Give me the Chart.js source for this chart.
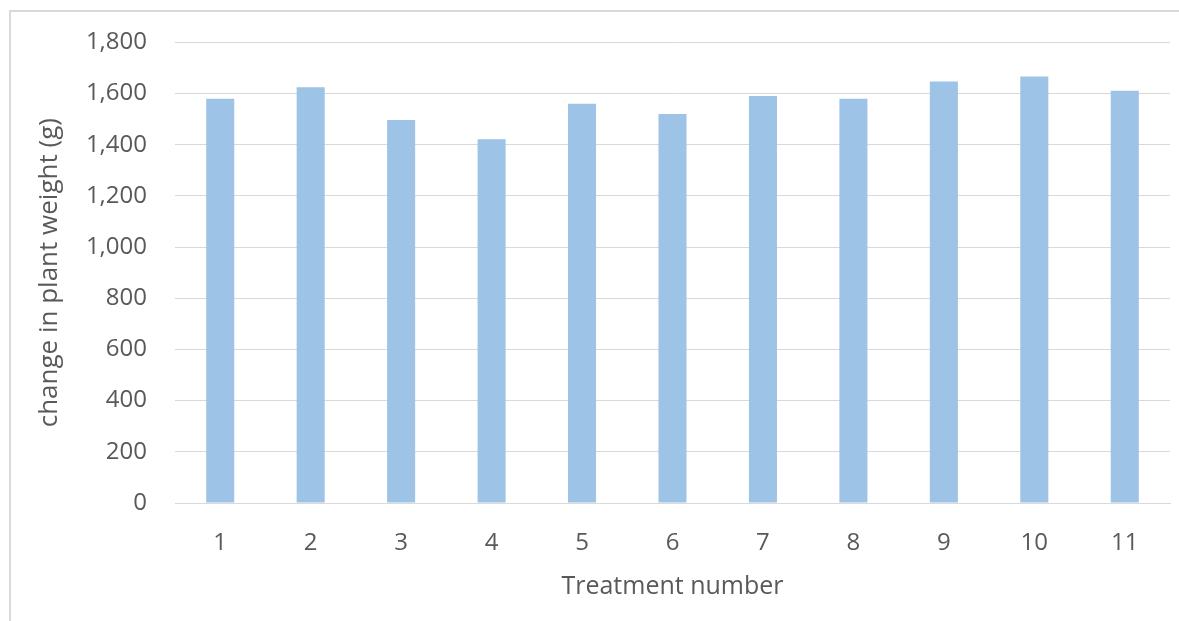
<!DOCTYPE html>
<html>
<head>
<meta charset="utf-8">
<script src="https://cdn.jsdelivr.net/npm/chart.js@4/dist/chart.umd.min.js"></script>
<style>
  html, body { margin: 0; padding: 0; background: #fff; }
  #wrap { position: relative; width: 1179px; height: 621px; }
  canvas { display: block; }
</style>
</head>
<body>
<div id="wrap"><canvas id="chart" width="1179" height="621"></canvas></div>
<script>
// Treatment numbers along the x axis
const treatments = ['1', '2', '3', '4', '5', '6', '7', '8', '9', '10', '11'];
// Change in plant weight per treatment, grams
const weightChange = [1580, 1625, 1497, 1422, 1560, 1520, 1591, 1580, 1647, 1667, 1611];
// Value axis ticks
const yTicks = [0, 200, 400, 600, 800, 1000, 1200, 1400, 1600, 1800];

const textColor = '#595959';
const gridColor = '#d9d9d9';
const fontFamily = '"Open Sans", "DejaVu Sans", sans-serif';

// Light frame around the chart area (top and left edges)
const framePlugin = {
  id: 'frame',
  beforeDraw(chart) {
    const ctx = chart.ctx;
    ctx.save();
    ctx.fillStyle = '#ffffff';
    ctx.fillRect(0, 0, chart.width, chart.height);
    ctx.strokeStyle = '#d9d9d9';
    ctx.lineWidth = 2;
    ctx.beginPath();
    ctx.moveTo(10, chart.height);
    ctx.lineTo(10, 11);
    ctx.lineTo(chart.width, 11);
    ctx.stroke();
    ctx.restore();
  }
};

new Chart(document.getElementById('chart'), {
  type: 'bar',
  data: {
    labels: treatments,
    datasets: [{
      data: weightChange,
      backgroundColor: '#9dc3e6',
      borderWidth: 0,
      categoryPercentage: 1,
      barPercentage: 0.31
    }]
  },
  options: {
    responsive: false,
    animation: false,
    devicePixelRatio: 1,
    layout: { padding: { left: 0, right: 9, top: 40, bottom: 0 } },
    plugins: {
      legend: { display: false },
      tooltip: { enabled: false }
    },
    scales: {
      x: {
        afterFit(scale) { scale.height = 118; },
        grid: { display: false, drawTicks: false },
        border: { display: true, color: gridColor, width: 1 },
        ticks: {
          color: textColor,
          padding: 26,
          font: { family: fontFamily, size: 24 }
        },
        title: {
          display: true,
          text: 'Treatment number',
          color: textColor,
          font: { family: fontFamily, size: 25 },
          padding: { top: 0, bottom: 19 }
        }
      },
      y: {
        min: 0,
        max: 1800,
        afterFit(scale) { scale.width = 175; },
        afterBuildTicks(scale) { scale.ticks = yTicks.map(v => ({ value: v })); },
        grid: { color: gridColor, lineWidth: 1, drawTicks: false },
        border: { display: false },
        ticks: {
          color: textColor,
          padding: 28,
          font: { family: fontFamily, size: 24 },
          callback: (v) => Number(v).toLocaleString('en-US')
        },
        title: {
          display: true,
          text: 'change in plant weight (g)',
          color: textColor,
          font: { family: fontFamily, size: 26 },
          padding: { top: 34, bottom: 0 }
        }
      }
    }
  },
  plugins: [framePlugin]
});
</script>
</body>
</html>
